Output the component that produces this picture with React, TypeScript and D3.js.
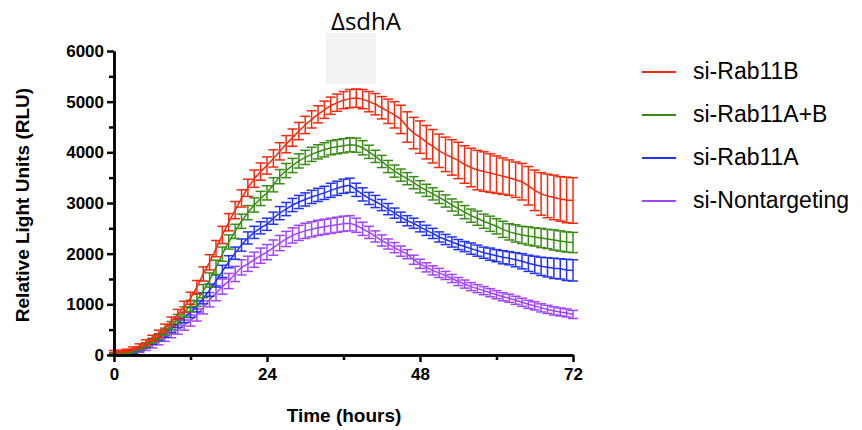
import * as d3 from "d3";
import React, { useEffect, useRef } from "react";

// time points (hours) and readings, one every hour
const hours = d3.range(0, 73);

const rab11B = [
  70, 75, 90, 130, 180, 250, 330, 420, 530, 660,
  800, 950, 1120, 1340, 1600, 1830, 2100, 2370, 2620, 2860,
  3090, 3300, 3480, 3620, 3740, 3880, 4020, 4160, 4290, 4420,
  4540, 4650, 4750, 4840, 4920, 4980, 5030, 5060, 5070, 5050,
  5000, 4950, 4880, 4810, 4740, 4650, 4500, 4380, 4300, 4200,
  4120, 4030, 3960, 3900, 3840, 3760, 3700, 3650, 3620, 3590,
  3560, 3530, 3500, 3460, 3420, 3340, 3250, 3180, 3140, 3110,
  3080, 3060, 3050,
];
const rab11BErr = [
  20, 20, 25, 30, 40, 50, 60, 70, 80, 90,
  100, 110, 120, 130, 140, 150, 160, 170, 170, 170,
  170, 170, 170, 170, 170, 170, 170, 170, 170, 170,
  170, 170, 170, 170, 170, 170, 170, 180, 180, 190,
  200, 210, 220, 240, 260, 280, 300, 310, 320, 330,
  330, 330, 340, 350, 360, 370, 380, 390, 390, 380,
  370, 360, 350, 350, 360, 380, 400, 420, 430, 440,
  440, 450, 450,
];

const rab11AB = [
  30, 35, 50, 80, 130, 200, 280, 360, 460, 580,
  710, 850, 970, 1080, 1260, 1480, 1730, 1990, 2230, 2440,
  2640, 2810, 2960, 3090, 3200, 3360, 3520, 3640, 3740, 3830,
  3900, 3960, 4010, 4050, 4090, 4110, 4130, 4150, 4140, 4090,
  4010, 3920, 3820, 3720, 3630, 3550, 3480, 3400, 3320, 3250,
  3180, 3110, 3040, 2960, 2890, 2820, 2750, 2700, 2640, 2590,
  2540, 2480, 2430, 2400, 2370, 2350, 2330, 2310, 2290, 2270,
  2250, 2230, 2220,
];
const rab11ABErr = [
  15, 15, 20, 25, 30, 40, 50, 60, 70, 80,
  90, 100, 110, 120, 130, 140, 140, 140, 140, 140,
  140, 140, 140, 140, 140, 140, 140, 140, 140, 140,
  140, 140, 140, 140, 140, 140, 140, 140, 140, 140,
  130, 120, 120, 120, 120, 120, 120, 120, 120, 120,
  120, 120, 120, 120, 130, 130, 130, 140, 140, 150,
  150, 160, 160, 170, 170, 180, 180, 190, 190, 200,
  200, 200, 200,
];

const rab11A = [
  30, 30, 40, 60, 110, 180, 260, 340, 420, 520,
  630, 740, 840, 960, 1120, 1280, 1460, 1650, 1840, 2010,
  2170, 2310, 2420, 2510, 2580, 2700, 2800, 2880, 2960, 3020,
  3070, 3120, 3160, 3200, 3250, 3290, 3330, 3350, 3260, 3170,
  3090, 3030, 2960, 2880, 2800, 2720, 2650, 2600, 2530, 2460,
  2400, 2330, 2280, 2230, 2180, 2140, 2100, 2060, 2020, 1990,
  1960, 1930, 1910, 1880, 1850, 1810, 1780, 1750, 1730, 1710,
  1700, 1680, 1670,
];
const rab11AErr = [
  15, 15, 20, 25, 30, 40, 50, 60, 70, 80,
  90, 100, 100, 110, 110, 120, 120, 120, 120, 120,
  120, 120, 120, 120, 120, 120, 130, 130, 130, 130,
  130, 130, 130, 130, 140, 140, 140, 140, 130, 130,
  120, 120, 110, 110, 100, 100, 100, 100, 100, 100,
  100, 100, 100, 100, 100, 100, 110, 110, 110, 120,
  120, 130, 130, 140, 150, 160, 170, 180, 190, 200,
  200, 210, 210,
];

const nonTargeting = [
  30, 30, 35, 50, 80, 130, 190, 260, 340, 420,
  500, 590, 680, 790, 940, 1090, 1220, 1350, 1460, 1600,
  1730, 1800, 1880, 1960, 2030, 2120, 2210, 2290, 2360, 2410,
  2450, 2480, 2510, 2530, 2550, 2570, 2590, 2600, 2560, 2490,
  2420, 2340, 2260, 2190, 2120, 2050, 1990, 1880, 1800, 1730,
  1670, 1620, 1570, 1510, 1450, 1400, 1350, 1310, 1270, 1230,
  1190, 1150, 1120, 1080, 1040, 1000, 970, 930, 900, 870,
  850, 830, 800,
];
const nonTargetingErr = [
  15, 15, 20, 25, 30, 40, 50, 60, 70, 80,
  90, 100, 110, 120, 130, 140, 150, 150, 150, 150,
  150, 150, 150, 150, 150, 150, 150, 150, 150, 150,
  150, 150, 150, 150, 150, 150, 150, 150, 140, 130,
  120, 110, 110, 100, 100, 100, 90, 90, 90, 90,
  90, 90, 80, 80, 80, 80, 80, 80, 80, 80,
  80, 80, 80, 80, 80, 80, 80, 80, 80, 80,
  80, 80, 80,
];

const xTicks = [0, 24, 48, 72];
const xMinorTicks = [12, 36, 60];
const yTicks = [0, 1000, 2000, 3000, 4000, 5000, 6000];
const yMinorTicks = [500, 1500, 2500, 3500, 4500, 5500];

const legendNames = ["si-Rab11B", "si-Rab11A+B", "si-Rab11A", "si-Nontargeting"];
const legendColors = ["#f42a0e", "#3a8c17", "#2233f4", "#a044ff"];

const App = () => {
  const svgRef = useRef(null);

  useEffect(() => {
    const width = 862,
      height = 430;
    const svg = d3.select(svgRef.current).html("").attr("width", width).attr("height", height);

    const x = d3.scaleLinear().domain([0, 72]).range([114, 573]);
    const y = d3.scaleLinear().domain([0, 6000]).range([355, 51]);
    const font = "Liberation Sans, Arial, sans-serif";

    // title with grey box
    svg.append("rect").attr("x", 326).attr("y", 33).attr("width", 50).attr("height", 51).attr("fill", "#f2f2f2");
    svg
      .append("text")
      .attr("x", 366)
      .attr("y", 30)
      .attr("text-anchor", "middle")
      .style("font-family", "Open Sans, sans-serif")
      .style("font-size", "24px")
      .text("ΔsdhA");

    // series, drawn bottom to top
    const series = [
      { values: nonTargeting, err: nonTargetingErr, color: legendColors[3] },
      { values: rab11A, err: rab11AErr, color: legendColors[2] },
      { values: rab11AB, err: rab11ABErr, color: legendColors[1] },
      { values: rab11B, err: rab11BErr, color: legendColors[0] },
    ];
    const line = d3
      .line<number>()
      .x((d, i) => x(hours[i]))
      .y((d) => y(d));
    const cap = 5;

    series.forEach((s) => {
      const g = svg.append("g").attr("stroke", s.color).attr("stroke-width", 1.5).attr("fill", "none");
      s.values.forEach((v, i) => {
        const cx = x(hours[i]);
        const top = y(v + s.err[i]);
        const bot = y(Math.max(0, v - s.err[i]));
        g.append("line").attr("x1", cx).attr("x2", cx).attr("y1", top).attr("y2", bot);
        g.append("line").attr("x1", cx - cap).attr("x2", cx + cap).attr("y1", top).attr("y2", top);
        g.append("line").attr("x1", cx - cap).attr("x2", cx + cap).attr("y1", bot).attr("y2", bot);
      });
      g.append("path").datum(s.values).attr("stroke-width", 1.5).attr("d", line);
    });

    // axes
    const styleAxis = (g) => {
      g.selectAll("path, line").attr("stroke", "#000").attr("stroke-width", 2.5);
      g.selectAll("text")
        .attr("fill", "#000")
        .style("font-family", font)
        .style("font-weight", "bold")
        .style("font-size", "17px");
    };

    svg
      .append("g")
      .attr("transform", "translate(0,355)")
      .call(d3.axisBottom(x).tickValues(xMinorTicks).tickSize(5).tickSizeOuter(0).tickFormat(() => ""))
      .call(styleAxis);
    svg
      .append("g")
      .attr("transform", "translate(0,355)")
      .call(d3.axisBottom(x).tickValues(xTicks).tickSize(7).tickSizeOuter(0).tickPadding(6))
      .call(styleAxis);

    svg
      .append("g")
      .attr("transform", "translate(114,0)")
      .call(d3.axisLeft(y).tickValues(yMinorTicks).tickSize(5).tickSizeOuter(0).tickFormat(() => ""))
      .call(styleAxis);
    svg
      .append("g")
      .attr("transform", "translate(114,0)")
      .call(d3.axisLeft(y).tickValues(yTicks).tickSize(7).tickSizeOuter(0).tickPadding(3).tickFormat(d3.format("d")))
      .call(styleAxis);

    // axis titles
    svg
      .append("text")
      .attr("x", 344)
      .attr("y", 422)
      .attr("text-anchor", "middle")
      .style("font-family", font)
      .style("font-weight", "bold")
      .style("font-size", "19px")
      .text("Time (hours)");
    svg
      .append("text")
      .attr("transform", "translate(29,205) rotate(-90)")
      .attr("text-anchor", "middle")
      .style("font-family", font)
      .style("font-weight", "bold")
      .style("font-size", "19px")
      .text("Relative Light Units (RLU)");

    // legend
    const legend = svg
      .selectAll(".legend")
      .data(legendNames)
      .enter()
      .append("g")
      .attr("class", "legend")
      .attr("transform", (d, i) => `translate(642, ${72 + i * 43})`);
    legend
      .append("line")
      .attr("x1", 0)
      .attr("x2", 34)
      .attr("stroke", (d, i) => legendColors[i])
      .attr("stroke-width", 2);
    legend
      .append("text")
      .attr("x", 51)
      .attr("y", 7)
      .style("font-family", font)
      .style("font-size", "23px")
      .text((d) => d);
  }, []);

  return (
    <div style={{ position: "absolute", left: 0, top: 0 }}>
      <svg ref={svgRef} style={{ display: "block" }} />
    </div>
  );
};

export default App;
